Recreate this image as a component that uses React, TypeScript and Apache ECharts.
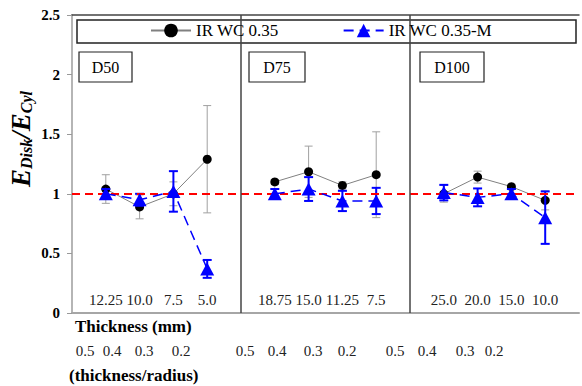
import React, { useEffect, useRef } from "react";
import * as echarts from "echarts";

const panels = ["D50", "D75", "D100"];
const thicknessLabels = [
  ["12.25", "10.0", "7.5", "5.0"],
  ["18.75", "15.0", "11.25", "7.5"],
  ["25.0", "20.0", "15.0", "10.0"],
];
const ratioLabels = ["0.5", "0.4", "0.3", "0.2"];

const wc035 = [1.04, 0.89, 1.0, 1.29, 1.1, 1.185, 1.07, 1.16, 1.0, 1.14, 1.06, 0.945];
const wc035Err = [0.12, 0.1, 0.1, 0.45, 0.02, 0.215, 0.03, 0.36, 0.07, 0.05, 0.02, 0.08];
const wc035M = [1.0, 0.95, 1.02, 0.37, 1.0, 1.04, 0.94, 0.94, 1.01, 0.97, 1.0, 0.8];
const wc035MErr = [0.04, 0.05, 0.17, 0.075, 0.04, 0.1, 0.085, 0.11, 0.065, 0.075, 0.04, 0.22];
const yTicks = [0, 0.5, 1, 1.5, 2, 2.5];

// layout constants (not data)
const ratioLabelX = [
  [85, 112, 144, 181],
  [245, 277, 313, 347],
  [395, 427, 465, 494],
];
const panelBoxes = [
  { x: 79, w: 53 },
  { x: 249, w: 56 },
  { x: 420, w: 64 },
];

const SERIF = "Liberation Serif";
const PER = thicknessLabels[0].length + 1;

function xOf(idx: number) {
  const p = Math.floor(idx / (PER - 1));
  const i = idx % (PER - 1);
  return p * PER + i + 1;
}

function lineData(vals: number[]) {
  const out: any[] = [];
  vals.forEach((v, idx) => {
    const i = idx % (PER - 1);
    if (i === 0 && idx > 0) out.push([xOf(idx) - 1, "-"]);
    out.push([xOf(idx), v]);
  });
  return out;
}
function errData(vals: number[], errs: number[]) {
  return vals.map((v, idx) => [xOf(idx), v - errs[idx], v + errs[idx]]);
}

const xLabelMap: Record<number, string> = {};
thicknessLabels.forEach((arr, p) =>
  arr.forEach((l, i) => {
    xLabelMap[p * PER + i + 1] = l;
  })
);

function errRender(color: string, width: number, hw: number) {
  return (params: any, api: any) => {
    const x = api.value(0);
    const lo = api.coord([x, api.value(1)]);
    const hi = api.coord([x, api.value(2)]);
    const style = { stroke: color, lineWidth: width };
    return {
      type: "group",
      children: [
        { type: "line", shape: { x1: hi[0], y1: hi[1], x2: lo[0], y2: lo[1] }, style },
        { type: "line", shape: { x1: hi[0] - hw, y1: hi[1], x2: hi[0] + hw, y2: hi[1] }, style },
        { type: "line", shape: { x1: lo[0] - hw, y1: lo[1], x2: lo[0] + hw, y2: lo[1] }, style },
      ],
    };
  };
}

export default function App() {
  const ref = useRef<HTMLDivElement>(null);
  useEffect(() => {
    if (!ref.current) return;
    const chart = echarts.init(ref.current, null, { renderer: "svg" });
    const graphics: any[] = [];
    graphics.push({
      type: "rect",
      shape: { x: 77, y: 20, width: 499, height: 23 },
      style: { fill: "#fff", stroke: "#222", lineWidth: 1.5 },
      z: 5,
    });
    panels.forEach((name, p) => {
      const b = panelBoxes[p];
      graphics.push({
        type: "rect",
        shape: { x: b.x, y: 52, width: b.w, height: 30 },
        style: { fill: "#fff", stroke: "#222", lineWidth: 1.2 },
        z: 5,
      });
      graphics.push({
        type: "text",
        x: b.x + b.w / 2,
        y: 67,
        style: {
          text: name,
          fontFamily: SERIF,
          fontSize: 16,
          fill: "#000",
          align: "center",
          verticalAlign: "middle",
        },
        z: 6,
      });
      ratioLabels.forEach((r, i) => {
        graphics.push({
          type: "text",
          x: ratioLabelX[p][i],
          y: 351,
          style: {
            text: r,
            fontFamily: SERIF,
            fontSize: 15,
            fill: "#222",
            align: "center",
            verticalAlign: "middle",
          },
        });
      });
    });
    graphics.push({
      type: "text",
      x: 75,
      y: 326,
      style: {
        text: "Thickness (mm)",
        fontFamily: SERIF,
        fontSize: 17,
        fontWeight: "bold",
        fill: "#000",
        align: "left",
        verticalAlign: "middle",
      },
    });
    graphics.push({
      type: "text",
      x: 69,
      y: 375,
      style: {
        text: "(thickness/radius)",
        fontFamily: SERIF,
        fontSize: 17,
        fontWeight: "bold",
        fill: "#000",
        align: "left",
        verticalAlign: "middle",
      },
    });
    graphics.push({
      type: "text",
      x: 20,
      y: 139,
      rotation: Math.PI / 2,
      style: {
        text: "{e|E}{s|Disk}{e|/E}{s|Cyl}",
        align: "center",
        verticalAlign: "middle",
        rich: {
          e: {
            fontFamily: SERIF,
            fontSize: 27,
            fontWeight: "bold",
            fontStyle: "italic",
            fill: "#000",
            lineHeight: 28,
            verticalAlign: "bottom",
          },
          s: {
            fontFamily: SERIF,
            fontSize: 16,
            fontWeight: "bold",
            fontStyle: "italic",
            fill: "#000",
            lineHeight: 10,
            verticalAlign: "bottom",
          },
        },
      },
    });

    chart.setOption({
      animation: false,
      backgroundColor: "#fff",
      textStyle: { fontFamily: SERIF },
      grid: { left: 72, top: 15, width: 510, height: 298 },
      legend: {
        data: ["IR WC 0.35", "IR WC 0.35-M"],
        left: 150,
        top: 22,
        padding: 0,
        itemWidth: 40,
        itemHeight: 17,
        itemGap: 64,
        z: 10,
        textStyle: { fontFamily: SERIF, fontSize: 17, color: "#000" },
      },
      graphic: graphics,
      xAxis: [
        {
          type: "value",
          min: 0,
          max: PER * panels.length,
          interval: 1,
          splitLine: { show: false },
          axisTick: { show: false },
          axisLine: { lineStyle: { color: "#a6a6a6", width: 2 } },
          axisLabel: {
            inside: true,
            margin: 6,
            showMinLabel: true,
            showMaxLabel: true,
            fontFamily: SERIF,
            fontSize: 15,
            color: "#222",
            formatter: (v: number) => xLabelMap[v] || "",
          },
        },
        {
          type: "value",
          position: "top",
          min: 0,
          max: PER * panels.length,
          splitLine: { show: false },
          axisTick: { show: false },
          axisLabel: { show: false },
          axisLine: { show: true, lineStyle: { color: "#444", width: 1.5 } },
        },
      ],
      yAxis: {
        type: "value",
        min: yTicks[0],
        max: yTicks[yTicks.length - 1],
        interval: 0.5,
        splitLine: { show: false },
        axisLine: { show: true, lineStyle: { color: "#b5b5b5", width: 2 } },
        axisTick: { show: true, length: 5, lineStyle: { color: "#999", width: 1 } },
        axisLabel: {
          margin: 12,
          fontFamily: SERIF,
          fontSize: 15,
          fontWeight: "bold",
          color: "#000",
          formatter: (v: number) => String(v),
        },
      },
      series: [
        {
          name: "refs",
          type: "line",
          data: [],
          silent: true,
          markLine: {
            silent: true,
            symbol: "none",
            label: { show: false },
            data: [
              { yAxis: 1, lineStyle: { color: "#ff0000", width: 2, type: [8, 5] } },
              ...panels.slice(1).map((_, p) => ({
                xAxis: (p + 1) * PER,
                lineStyle: { color: "#444", width: 1.5, type: "solid" },
              })),
            ],
          },
          z: 1,
        },
        {
          name: "errBlack",
          type: "custom",
          renderItem: errRender("#a0a0a0", 1, 4),
          encode: { x: 0, y: [1, 2] },
          data: errData(wc035, wc035Err),
          z: 2,
          silent: true,
        },
        {
          name: "IR WC 0.35",
          type: "line",
          data: lineData(wc035),
          connectNulls: false,
          symbol: "circle",
          symbolSize: 9,
          itemStyle: { color: "#000" },
          lineStyle: { color: "#808080", width: 1 },
          z: 3,
        },
        {
          name: "errBlue",
          type: "custom",
          renderItem: errRender("#0000ff", 2, 4.5),
          encode: { x: 0, y: [1, 2] },
          data: errData(wc035M, wc035MErr),
          z: 4,
          silent: true,
        },
        {
          name: "IR WC 0.35-M",
          type: "line",
          data: lineData(wc035M),
          connectNulls: false,
          symbol: "triangle",
          symbolSize: [14, 13],
          itemStyle: { color: "#0000ff" },
          lineStyle: { color: "#0000ff", width: 1.5, type: [10, 6] },
          z: 5,
        },
      ],
    });
    return () => chart.dispose();
  }, []);
  return (
    <div
      ref={ref}
      style={{ position: "absolute", left: 0, top: 0, width: 582, height: 386 }}
    />
  );
}
